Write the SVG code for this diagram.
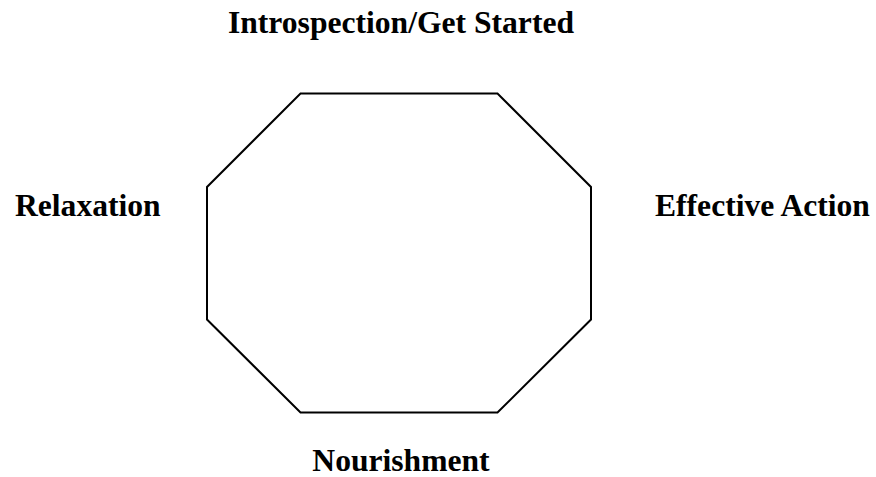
<svg xmlns="http://www.w3.org/2000/svg" width="876" height="477" viewBox="0 0 876 477">
<style>
.lbl{font-family:"Liberation Serif","Times New Roman",serif;font-weight:bold;font-size:31.6px;fill:#000}
.oct{fill:#fff;stroke:#000;stroke-width:2}
</style>
<rect width="876" height="477" fill="#fff"/>
<g id="octagon">
<polygon class="oct" points="300.5,93.5 497.5,93.5 591,187 591,319.5 497.5,412.5 300.5,412.5 207,319.5 207,187"/>
</g>
<g id="connectors"></g>
<g id="top"><text class="lbl" x="401" y="33" text-anchor="middle">Introspection/Get Started</text></g>
<g id="left"><text class="lbl" x="15" y="216">Relaxation</text></g>
<g id="right"><text class="lbl" x="655" y="216">Effective Action</text></g>
<g id="bottom"><text class="lbl" x="401" y="471" text-anchor="middle">Nourishment</text></g>
</svg>
